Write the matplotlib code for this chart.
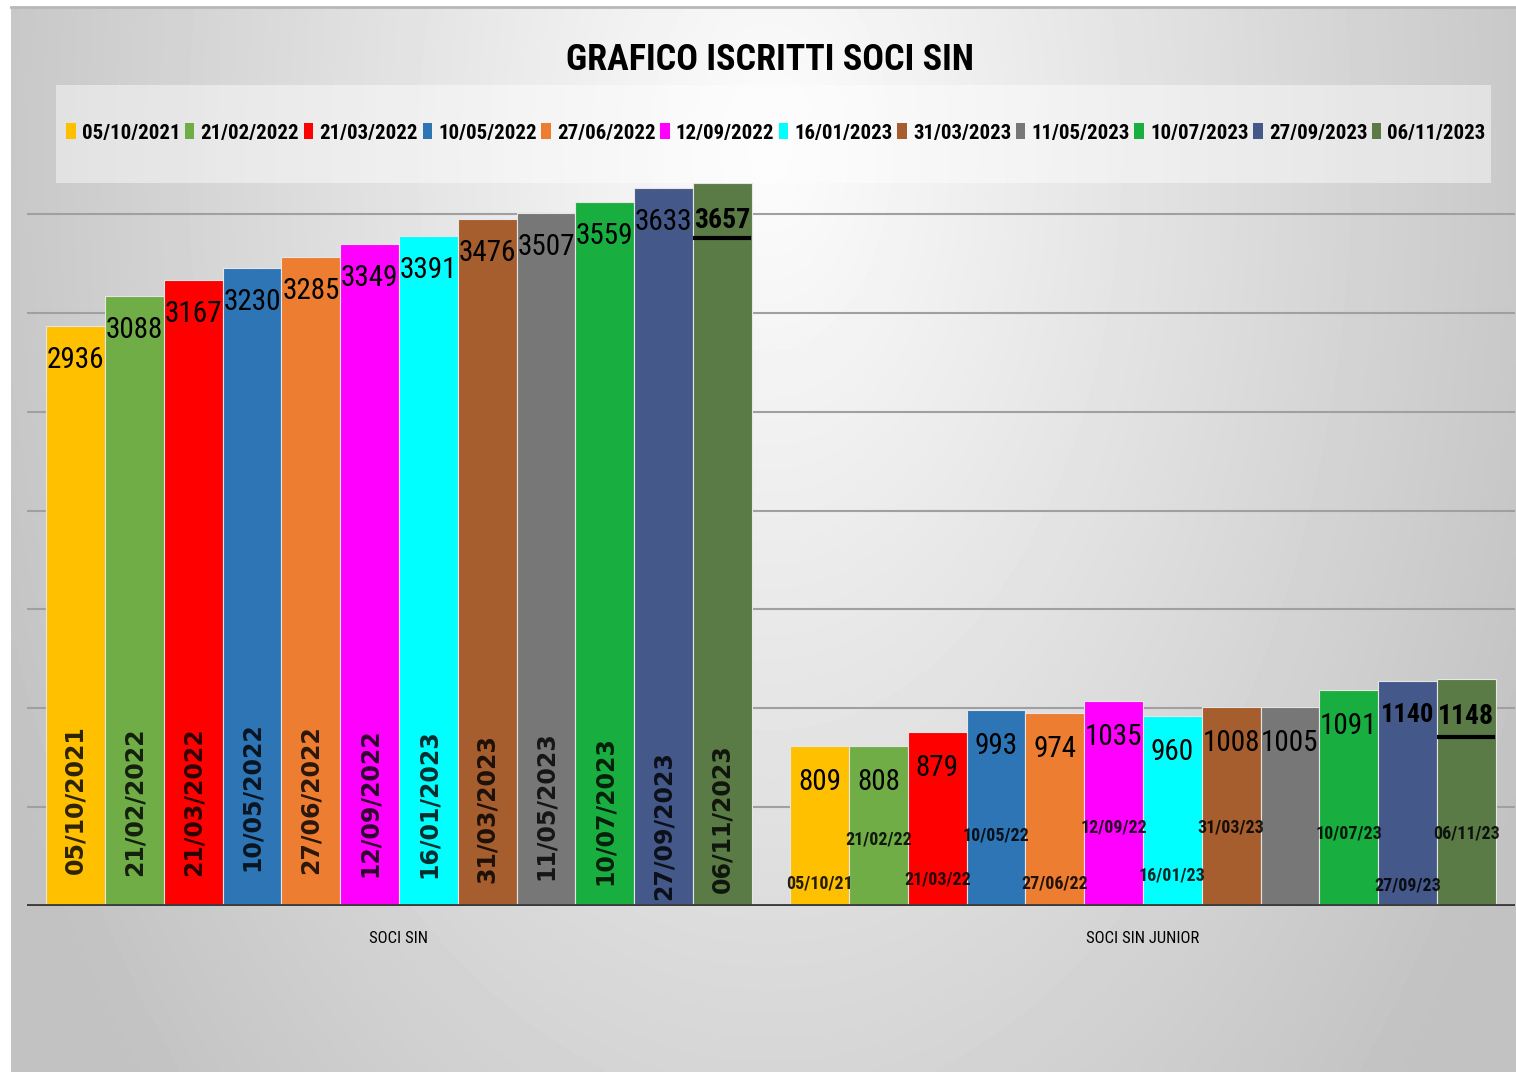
import numpy as np
import matplotlib
matplotlib.use("Agg")
import matplotlib.pyplot as plt
from matplotlib import font_manager
from matplotlib.patches import Patch, Rectangle
from matplotlib.lines import Line2D
from matplotlib.transforms import offset_copy

categories = ["SOCI SIN", "SOCI SIN JUNIOR"]
dates = ["05/10/2021", "21/02/2022", "21/03/2022", "10/05/2022", "27/06/2022", "12/09/2022",
         "16/01/2023", "31/03/2023", "11/05/2023", "10/07/2023", "27/09/2023", "06/11/2023"]
junior_dates = ["05/10/21", "21/02/22", "21/03/22", "10/05/22", "27/06/22", "12/09/22",
                "16/01/23", "31/03/23", "", "10/07/23", "27/09/23", "06/11/23"]
soci_sin = [2936, 3088, 3167, 3230, 3285, 3349, 3391, 3476, 3507, 3559, 3633, 3657]
soci_junior = [809, 808, 879, 993, 974, 1035, 960, 1008, 1005, 1091, 1140, 1148]
colors = ["#FFC000", "#70AD47", "#FF0000", "#2E75B6", "#ED7D31", "#FF00FF",
          "#00FFFF", "#A65E2E", "#777777", "#19AF40", "#44598A", "#5A7B46"]

W, H = 1516, 1072


def pick_font(*names):
    available = {f.name for f in font_manager.fontManager.ttflist}
    for n in names:
        if n in available:
            return n
    return "DejaVu Sans"


NARROW = pick_font("Liberation Sans Narrow", "Roboto Condensed", "Liberation Sans")


def draw_background(fig):
    bg = fig.add_axes([11 / W, 0, 1 - 11 / W, (H - 8) / H], zorder=-5)
    xs = np.linspace(11, W, 300)
    ys = np.linspace(8, H, 220)
    gx, gy = np.meshgrid(xs, ys)
    d = np.sqrt(((gx - 770) / 850) ** 2 + ((gy - 150) / 1400) ** 2)
    shade = 0.99 - 0.23 * np.clip(d, 0, 1)
    bg.imshow(shade, cmap="gray", vmin=0, vmax=1, aspect="auto", interpolation="bilinear")
    bg.axis("off")
    fig.add_artist(Line2D([11 / W, 1], [1 - 7 / H, 1 - 7 / H], color="#b8b8b8", lw=2))


def main():
    fig = plt.figure(figsize=(W / 100, H / 100), dpi=100)
    fig.patch.set_facecolor("white")
    draw_background(fig)

    ax = fig.add_axes([27 / W, 166 / H, (1515 - 27) / W, 790.7 / H])
    ax.set_facecolor("none")
    n = len(dates)
    group = 0.948
    w = group / n
    x = np.arange(len(categories))

    ax.set_xlim(-0.5, len(categories) - 0.5)
    ax.set_ylim(0, 4000)
    for g in range(500, 4000, 500):
        ax.axhline(g, color="#a0a0a0", lw=1.5, zorder=0)

    bars = []
    for i in range(n):
        vals = [soci_sin[i], soci_junior[i]]
        pos = x - group / 2 + w * (i + 0.5)
        ax.bar(pos, vals, width=w, color=colors[i], edgecolor="#e6e6e6",
               linewidth=0.8, zorder=2, label=dates[i])
        bars.append((pos, vals))

    ax.axhline(0, color="#3c3c3c", lw=3.5, zorder=3)

    # value labels inside the top of each bar
    for i, (pos, vals) in enumerate(bars):
        for j in range(2):
            last = i == n - 1
            bold = last or (j == 1 and i == n - 2)
            size = 21
            if bold:
                size = 20 if last else 19
            ax.annotate(str(vals[j]), (pos[j], vals[j]),
                        xytext=(0, -20 if j == 0 else -22) if not last else (0, -24),
                        textcoords="offset pixels", ha="center", va="top",
                        fontsize=size, family=NARROW,
                        fontweight="bold" if bold else "normal", color="black", zorder=5)
            if last:
                tr = offset_copy(ax.transData, fig=fig, y=-(55 if j == 0 else 58), units="dots")
                ax.plot([pos[j] - w * 0.46, pos[j] + w * 0.46], [vals[j], vals[j]],
                        color="black", lw=3, transform=tr, zorder=5)

    # rotated date labels in the first group
    sin_centers = [106, 104, 104, 109, 106, 103, 102, 97, 100, 95, 80, 87]
    for i, (pos, vals) in enumerate(bars):
        tr = offset_copy(ax.transData, fig=fig, y=sin_centers[i], units="dots")
        ax.text(pos[0], 0, dates[i], rotation=90, ha="center", va="center", transform=tr,
                fontsize=17, fontweight="bold", family="DejaVu Sans", color="black",
                alpha=0.82, zorder=5)

    # short date labels in the junior group
    junior_centers = [23, 66, 26, 71, 22, 78, 31, 78, 0, 73, 21, 73]
    for i, (pos, vals) in enumerate(bars):
        if not junior_dates[i]:
            continue
        tr = offset_copy(ax.transData, fig=fig, y=junior_centers[i], units="dots")
        ax.text(pos[1], 0, junior_dates[i], ha="center", va="center", transform=tr,
                fontsize=13, fontweight="bold", family=NARROW, color="black",
                alpha=0.85, zorder=5)

    ax.set_xticks(x)
    ax.set_xticklabels(categories, family=NARROW, fontsize=12)
    ax.tick_params(axis="x", length=0, pad=18)
    ax.set_yticks([])
    for s in ax.spines.values():
        s.set_visible(False)

    # legend panel
    fig.add_artist(Rectangle((56 / W, 1 - 183 / H), (1491 - 56) / W, 98 / H,
                             transform=fig.transFigure, facecolor="white", alpha=0.45,
                             edgecolor="none", zorder=1))
    handles = [Patch(facecolor=c, edgecolor="none") for c in colors]
    fig.legend(handles, dates, loc="center", bbox_to_anchor=(776 / W, 1 - 133 / H),
               ncol=n, frameon=False, handlelength=0.45, handleheight=0.8,
               handletextpad=0.3, columnspacing=0.22,
               prop={"family": NARROW, "weight": "bold", "size": 15})

    fig.text(770 / W, 1 - 60 / H, "GRAFICO ISCRITTI SOCI SIN", ha="center", va="center",
             fontsize=26, fontweight="bold", family=NARROW)

    fig.savefig("out.png", dpi=100)


if __name__ == "__main__":
    main()
